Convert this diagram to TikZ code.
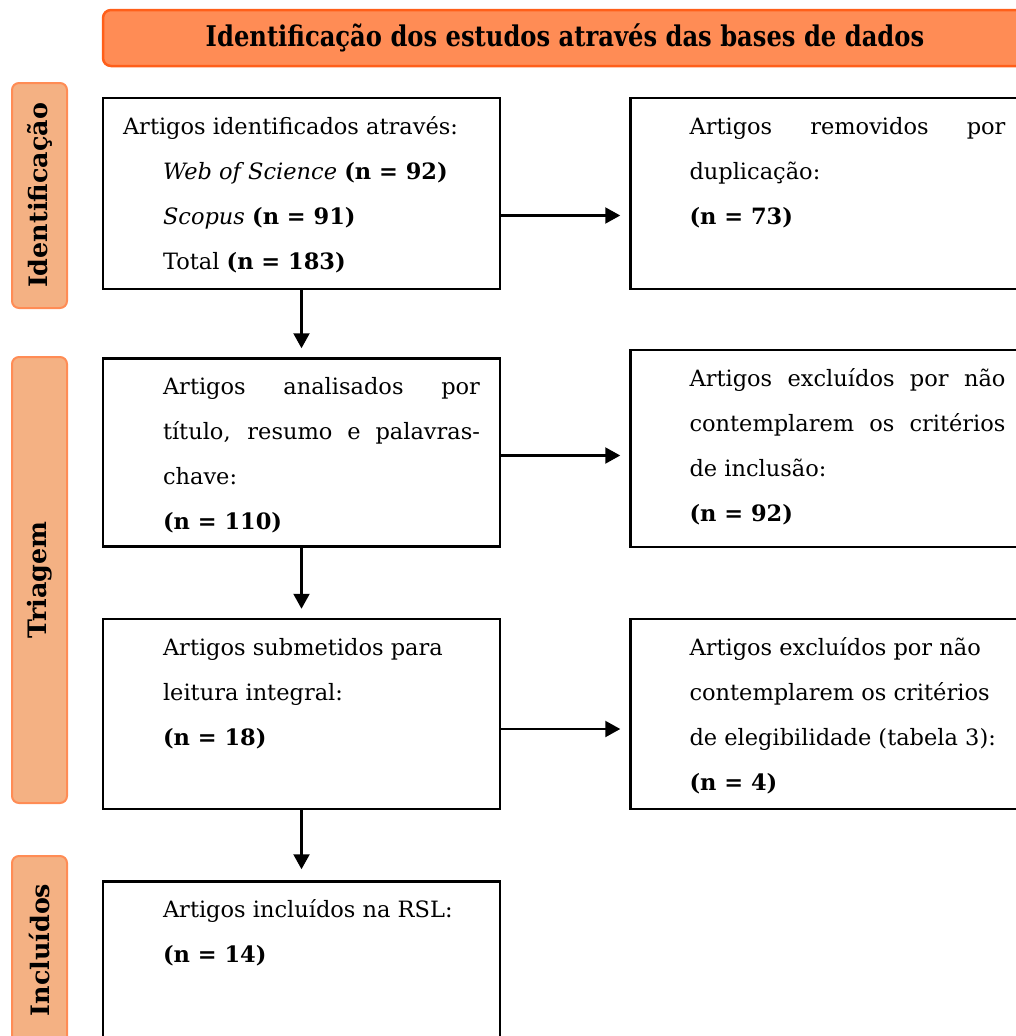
\documentclass[tikz,border=0pt]{standalone}
\usepackage{fontspec}
\setmainfont{DejaVu Serif}
\usepackage{tikz}
\usetikzlibrary{positioning,arrows.meta}
\definecolor{titlefill}{HTML}{FF8C55}
\definecolor{titledraw}{HTML}{FF5F1A}
\definecolor{sidefill}{HTML}{F4B183}
\definecolor{sidedraw}{HTML}{FF8C55}
\newcommand{\boxtxt}[2]{\parbox[c][#1pt][t]{397pt}{\fontsize{22.5}{45}\selectfont\rule{0pt}{36pt}#2}}
\newcommand{\linha}[2]{\strut\hspace*{#1pt}#2}

\begin{document}
\begin{tikzpicture}[x=1pt, y=-1pt, node distance={67pt},
    box/.style = {draw, line width=2.5pt, inner sep=0pt, minimum width=397pt},
    side/.style = {draw=sidedraw, fill=sidefill, line width=2pt, rounded corners=7pt, rotate=90, minimum height=55pt, inner sep=0pt, font=\fontsize{25.4}{28}\selectfont\bfseries},
    title/.style = {draw=titledraw, fill=titlefill, line width=2.5pt, rounded corners=8pt, inner sep=0pt, font=\fontsize{28.5}{32}\selectfont\bfseries},
    arr/.style = {-{Triangle[length=15pt, width=16pt]}, line width=2.2pt, shorten >=9pt}]
    \useasboundingbox (0,0) rectangle (1015,1036);
    \node[title, minimum width=924pt, minimum height=56pt] (tit) at (565,38) {\scalebox{0.85}[1]{Identificação dos estudos através das bases de dados}};
    \node[side, minimum width=225pt] (sid1) at (39.5,195.5) {Identificação};
    \node[side, minimum width=446pt] (sid2) at (39.5,580) {Triagem};
    \node[side, minimum width=188pt] (sid3) at (39.5,950) {Incluídos};

    \node[box] (ident) at (301.5,193.5) {\boxtxt{191}{%
        \linha{20}{Artigos identificados através:}\\
        \linha{60}{\textit{Web of Science} \textbf{(n = 92)}}\\
        \linha{60}{\textit{Scopus} \textbf{(n = 91)}}\\
        \linha{60}{Total \textbf{(n = 183)}}}};
    \node[box] (triag) [below=of ident] {\boxtxt{188}{%
        \linha{60}{\makebox[317pt][s]{Artigos analisados por}}\\
        \linha{60}{\makebox[317pt][s]{título, resumo e palavras-}}\\
        \linha{60}{chave:}\\
        \linha{60}{\textbf{(n = 110)}}}};
    \node[box] (leit) [below=70pt of triag] {\boxtxt{190}{%
        \linha{60}{Artigos submetidos para}\\
        \linha{60}{leitura integral:}\\
        \linha{60}{\textbf{(n = 18)}}}};
    \node[box] (incl) [below=70pt of leit] {\boxtxt{191}{%
        \linha{60}{Artigos incluídos na RSL:}\\
        \linha{60}{\textbf{(n = 14)}}}};

    \node[box] (dupl) [right=128pt of ident] {\boxtxt{191}{%
        \linha{59}{\makebox[316pt][s]{Artigos removidos por}}\\
        \linha{59}{duplicação:}\\
        \linha{59}{\textbf{(n = 73)}}}};
    \node[box] (exclA) [right=128pt of triag, yshift=4pt] {\boxtxt{197}{%
        \linha{59}{\makebox[316pt][s]{Artigos excluídos por não}}\\
        \linha{59}{\makebox[316pt][s]{contemplarem os critérios}}\\
        \linha{59}{de inclusão:}\\
        \linha{59}{\textbf{(n = 92)}}}};
    \node[box] (exclB) [right=128pt of leit] {\boxtxt{190}{%
        \linha{59}{Artigos excluídos por não}\\
        \linha{59}{contemplarem os critérios}\\
        \linha{59}{de elegibilidade (tabela 3):}\\
        \linha{59}{\textbf{(n = 4)}}}};

    \draw[arr] (ident) -- (triag);
    \draw[arr] (triag) -- (leit);
    \draw[arr, shorten >=11pt] (leit) -- (incl);
    \draw[arr] ([yshift=-22pt]ident.east) -- ([yshift=-22pt]ident.east -| dupl.west);
    \draw[arr] ([yshift=-3pt]triag.east) -- ([yshift=-3pt]triag.east -| exclA.west);
    \draw[arr] ([yshift=-15pt]leit.east) -- ([yshift=-15pt]leit.east -| exclB.west);
\end{tikzpicture}
\end{document}
